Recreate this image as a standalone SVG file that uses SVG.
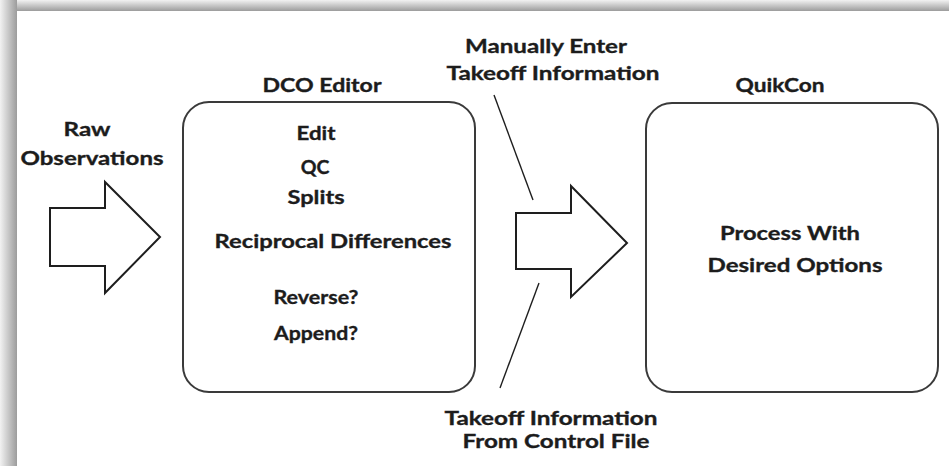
<svg xmlns="http://www.w3.org/2000/svg" width="949" height="466" viewBox="0 0 949 466">
  <defs>
    <linearGradient id="gTop" x1="0" y1="0" x2="0" y2="1">
      <stop offset="0" stop-color="#f2f2f2"/>
      <stop offset="1" stop-color="#9c9c9c"/>
    </linearGradient>
    <linearGradient id="gLeft" x1="0" y1="0" x2="1" y2="0">
      <stop offset="0" stop-color="#f2f2f2"/>
      <stop offset="1" stop-color="#9c9c9c"/>
    </linearGradient>
  </defs>
  <style>
    .t { font-family: "Lato", "Open Sans", "Liberation Sans", sans-serif; font-weight: bold; font-size: 19.5px; fill: #1c1c1c; stroke: #1c1c1c; stroke-width: 0.35; text-anchor: middle; }
    .box { fill: #ffffff; stroke: #3a3a3a; stroke-width: 2; }
    .arrow { fill: #ffffff; stroke: #1e1e1e; stroke-width: 2; stroke-linejoin: miter; }
    .lead { stroke: #1e1e1e; stroke-width: 1.4; fill: none; }
  </style>
  <rect x="0" y="0" width="949" height="466" fill="#ffffff"/>
  <g id="frame">
    <rect x="0" y="0" width="949" height="11" fill="url(#gTop)"/>
    <rect x="0" y="0" width="17" height="466" fill="url(#gLeft)"/>
    <rect x="17" y="11" width="932" height="455" fill="#ffffff"/>
  </g>

  <g id="raw-observations">
    <text class="t" x="87" y="136" textLength="47" lengthAdjust="spacingAndGlyphs">Raw</text>
    <text class="t" x="92" y="165" textLength="143" lengthAdjust="spacingAndGlyphs">Observations</text>
  </g>

  <g id="dco-editor">
    <text class="t" x="322" y="92" textLength="119" lengthAdjust="spacingAndGlyphs">DCO Editor</text>
    <rect class="box" x="183" y="102" width="292" height="290" rx="26" ry="26"/>
    <text class="t" x="316" y="140" textLength="39" lengthAdjust="spacingAndGlyphs">Edit</text>
    <text class="t" x="315" y="174">QC</text>
    <text class="t" x="316" y="204" textLength="57" lengthAdjust="spacingAndGlyphs">Splits</text>
    <text class="t" x="333" y="248" textLength="237" lengthAdjust="spacingAndGlyphs">Reciprocal Differences</text>
    <text class="t" x="316" y="304" textLength="85" lengthAdjust="spacingAndGlyphs">Reverse?</text>
    <text class="t" x="316" y="340" textLength="84" lengthAdjust="spacingAndGlyphs">Append?</text>
  </g>

  <g id="quikcon">
    <text class="t" x="780" y="92" textLength="89" lengthAdjust="spacingAndGlyphs">QuikCon</text>
    <rect class="box" x="646" y="103" width="292" height="289" rx="26" ry="26"/>
    <text class="t" x="790" y="240" textLength="140" lengthAdjust="spacingAndGlyphs">Process With</text>
    <text class="t" x="795" y="272" textLength="175" lengthAdjust="spacingAndGlyphs">Desired Options</text>
  </g>

  <g id="label-manual">
    <text class="t" x="546" y="53" textLength="162" lengthAdjust="spacingAndGlyphs">Manually Enter</text>
    <text class="t" x="553" y="80" textLength="213" lengthAdjust="spacingAndGlyphs">Takeoff Information</text>
  </g>

  <g id="label-control">
    <text class="t" x="551" y="425" textLength="213" lengthAdjust="spacingAndGlyphs">Takeoff Information</text>
    <text class="t" x="556" y="448" textLength="187" lengthAdjust="spacingAndGlyphs">From Control File</text>
  </g>

  <g id="connectors">
    <polygon class="arrow" points="50,208 105,208 105,182 160,237 105,293 105,266 50,266"/>
    <polygon class="arrow" points="516,213 571,213 571,186 627,243 571,297 571,269 516,269"/>
    <line class="lead" x1="494" y1="95" x2="533" y2="200"/>
    <line class="lead" x1="539" y1="283" x2="500" y2="388"/>
  </g>
</svg>
